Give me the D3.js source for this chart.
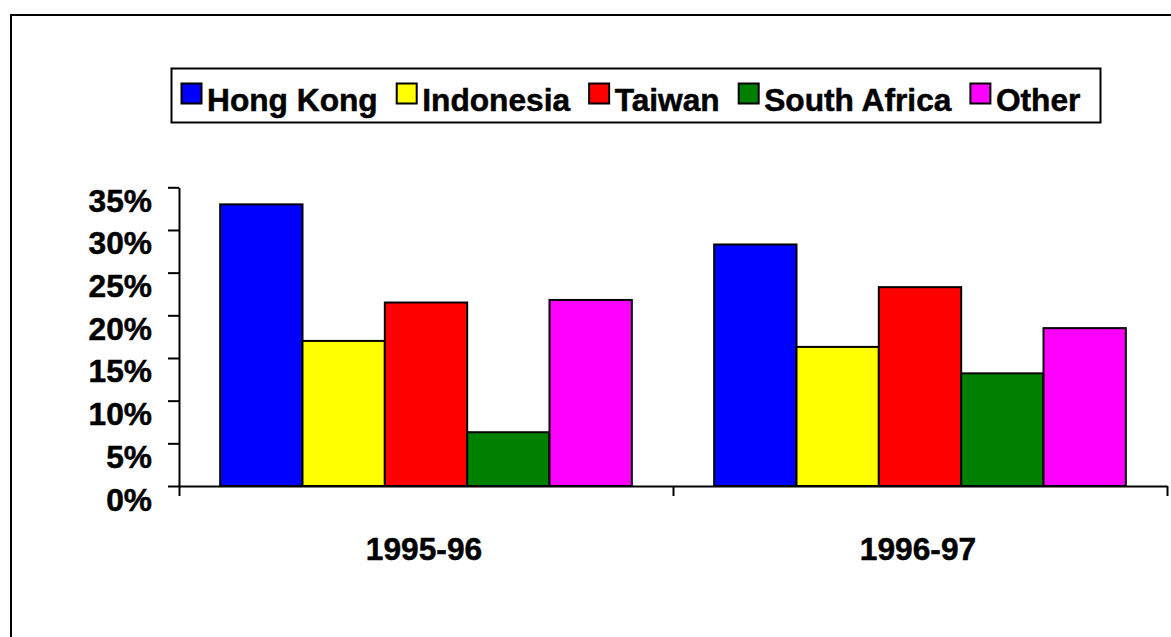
<!DOCTYPE html>
<html>
<head>
<meta charset="utf-8">
<script src="https://cdn.jsdelivr.net/npm/d3@7"></script>
<style>
  html, body { margin: 0; padding: 0; background: #fff; }
  svg { display: block; }
  text { font-family: "Liberation Sans", Arial, sans-serif; font-weight: bold; fill: #000; }
</style>
</head>
<body>
<svg id="chart" width="1171" height="637"></svg>
<script>
// Share of exports by destination, two financial years
const years = ["1995-96", "1996-97"];
const regions = ["Hong Kong", "Indonesia", "Taiwan", "South Africa", "Other"];
const regionColors = ["#0000ff", "#ffff00", "#ff0000", "#008000", "#ff00ff"];
const share9596 = [33.0, 17.0, 21.5, 6.3, 21.8];
const share9697 = [28.3, 16.3, 23.3, 13.2, 18.5];
const yTicks = [0, 5, 10, 15, 20, 25, 30, 35];

const shares = [share9596, share9697];
const rows = years.flatMap((yr, i) =>
  regions.map((r, j) => ({ year: yr, region: r, value: shares[i][j] })));

const svg = d3.select("#chart");
const FONT = 31.7;

// heavier bold look for every label
const styleText = sel => sel
  .style("font-size", FONT + "px")
  .style("font-family", '"Liberation Sans", Arial, sans-serif')
  .style("font-weight", "bold")
  .attr("fill", "#000")
  .attr("stroke", "#000")
  .attr("stroke-width", 0.5);

// outer frame
svg.append("rect")
  .attr("x", 11).attr("y", 15)
  .attr("width", 1250).attr("height", 700)
  .attr("fill", "none").attr("stroke", "#000").attr("stroke-width", 2);

// plot area
const plotLeft = 179, plotRight = 1167, plotTop = 187.3, plotBottom = 486;

const x = d3.scaleBand().domain(years).range([plotLeft, plotRight]).padding(0);
const xs = d3.scaleBand().domain(regions).range([0, x.bandwidth()])
  .paddingInner(0).paddingOuter(0.5);
const y = d3.scaleLinear().domain([0, 35]).range([plotBottom, plotTop]);
const color = d3.scaleOrdinal().domain(regions).range(regionColors);

// bars
svg.append("g").selectAll("rect")
  .data(rows)
  .join("rect")
  .attr("x", d => x(d.year) + xs(d.region))
  .attr("y", d => y(d.value))
  .attr("width", xs.bandwidth())
  .attr("height", d => y(0) - y(d.value))
  .attr("fill", d => color(d.region))
  .attr("stroke", "#000")
  .attr("stroke-width", 2);

// y axis
const yAxis = svg.append("g")
  .attr("transform", `translate(${plotLeft},0)`)
  .call(d3.axisLeft(y).tickValues(yTicks).tickFormat(d => d + "%")
    .tickSize(11).tickSizeOuter(0));
yAxis.selectAll("text")
  .attr("x", -27).attr("dy", null).attr("y", 24)
  .call(styleText);

// x axis: ticks sit on the category boundaries
const xEdge = d3.scaleLinear().domain([0, years.length]).range([plotLeft, plotRight]);
const xAxis = svg.append("g")
  .attr("transform", `translate(0,${plotBottom})`)
  .call(d3.axisBottom(xEdge).tickValues(d3.range(years.length + 1))
    .tickFormat("").tickSize(10).tickSizeOuter(0));

[yAxis, xAxis].forEach(g => {
  g.selectAll("path, line").attr("stroke", "#000").attr("stroke-width", 2);
});

// category labels
svg.append("g").selectAll("text")
  .data(years)
  .join("text")
  .attr("x", d => x(d) + x.bandwidth() / 2 - 2)
  .attr("y", 560)
  .attr("text-anchor", "middle")
  .call(styleText)
  .text(d => d);

// legend
const legend = svg.append("g");
legend.append("rect")
  .attr("x", 171.5).attr("y", 68.5)
  .attr("width", 929).attr("height", 54)
  .attr("fill", "#fff").attr("stroke", "#000").attr("stroke-width", 2);

let lx = 181.5;
regions.forEach((r, i) => {
  legend.append("rect")
    .attr("x", lx).attr("y", 83.5)
    .attr("width", 20).attr("height", 20)
    .attr("fill", regionColors[i])
    .attr("stroke", "#000").attr("stroke-width", 2);
  const t = legend.append("text")
    .attr("x", lx + 25.5).attr("y", 111)
    .call(styleText)
    .text(r);
  lx += 25.5 + t.node().getComputedTextLength() + 19;
});
</script>
</body>
</html>
